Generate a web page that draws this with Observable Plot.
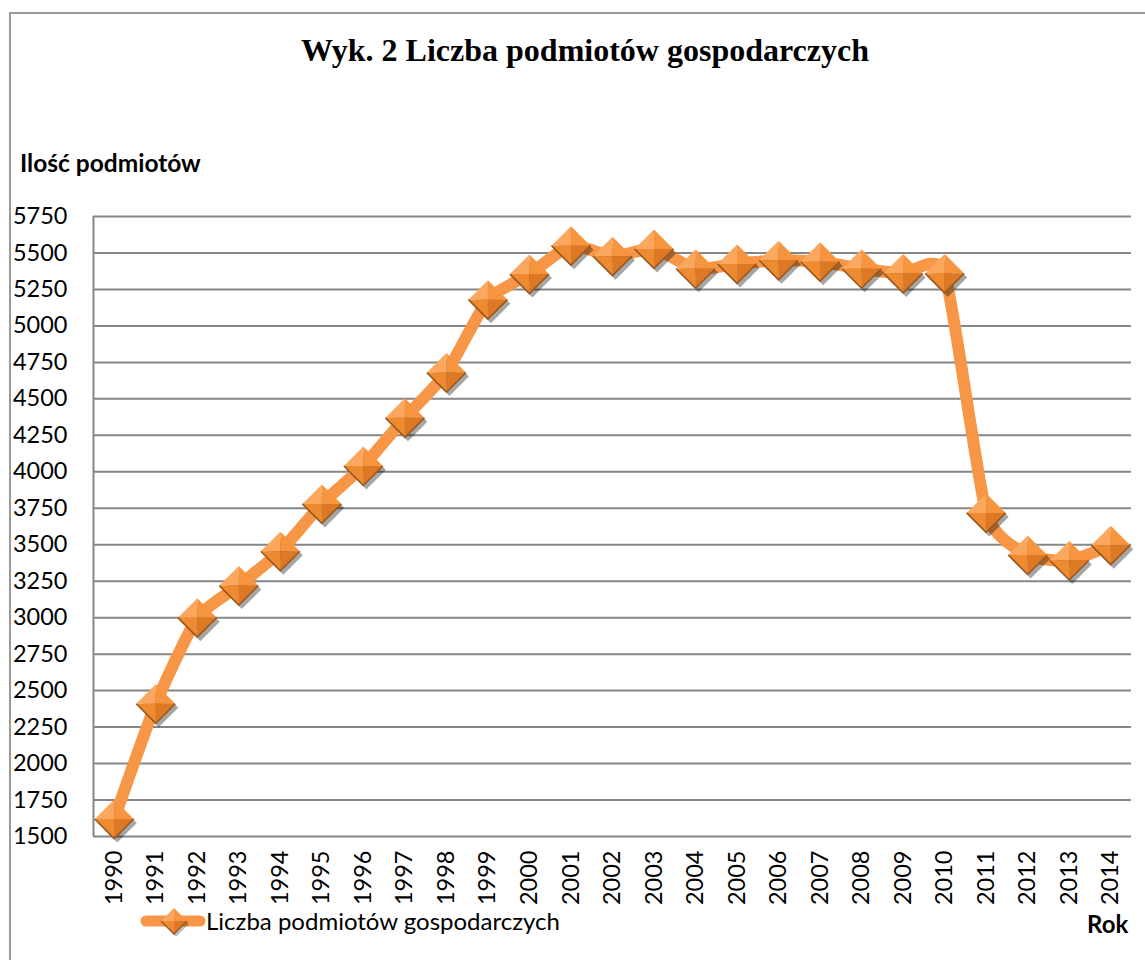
<!DOCTYPE html>
<html>
<head>
<meta charset="utf-8">
<script src="https://cdn.jsdelivr.net/npm/d3@7"></script>
<script src="https://cdn.jsdelivr.net/npm/@observablehq/plot@0.6"></script>
<style>
  html, body { margin: 0; padding: 0; background: #fff; }
  #wrap { position: relative; width: 1145px; height: 960px; overflow: hidden; }
  #frame { position: absolute; left: 9px; top: 12px; width: 1150px; height: 960px;
           border-left: 2px solid #9a9a9a; border-top: 2px solid #9a9a9a; box-sizing: border-box; }
  #chart { position: absolute; left: 0; top: 0; }
  .txt { position: absolute; white-space: nowrap; color: #000; }
  #title { left: 0; width: 1170px; text-align: center; top: 31px; font-family: "Liberation Serif", "Times New Roman", serif;
           font-weight: bold; font-size: 32px; line-height: 38px; }
  #ylab { left: 20px; top: 148px; font-family: Lato, sans-serif; font-weight: bold; font-size: 24.5px; line-height: 30px; }
  #xlab { left: 1087px; top: 909px; font-family: Lato, sans-serif; font-weight: bold; font-size: 24px; line-height: 30px; }
  #legend { left: 140px; top: 906px; font-family: Lato, sans-serif; font-size: 24px; line-height: 30px; display: flex; align-items: center; }
  #legend svg { display: block; margin-right: 0px; }
</style>
</head>
<body>
<div id="wrap">
  <div id="frame"></div>
  <div id="chart"></div>
  <div class="txt" id="title">Wyk. 2 Liczba podmiotów gospodarczych</div>
  <div class="txt" id="ylab">Ilość podmiotów</div>
  <div class="txt" id="xlab">Rok</div>
  <div class="txt" id="legend"></div>
</div>
<script>
// ---- data ----
const years = [1990, 1991, 1992, 1993, 1994, 1995, 1996, 1997, 1998, 1999, 2000, 2001, 2002,
               2003, 2004, 2005, 2006, 2007, 2008, 2009, 2010, 2011, 2012, 2013, 2014];
const values = [1620, 2410, 3000, 3220, 3455, 3780, 4040, 4370, 4680, 5180, 5355, 5550, 5478,
                5528, 5392, 5425, 5450, 5440, 5392, 5360, 5360, 3718, 3430, 3392, 3497];
const yTicks = [1500, 1750, 2000, 2250, 2500, 2750, 3000, 3250, 3500, 3750, 4000, 4250, 4500,
                4750, 5000, 5250, 5500, 5750];
const seriesName = "Liczba podmiotów gospodarczych";

const data = years.map((y, i) => ({year: y, value: values[i]}));

// ---- pyramid-diamond marker faces ----
function face(pts) {
  return {
    draw(ctx, size) {
      const r = Math.sqrt(size / Math.PI);
      ctx.moveTo(0, 0);
      for (const [a, b] of pts) ctx.lineTo(a * r, b * r);
      ctx.closePath();
    }
  };
}
const T = [0, -1], R = [1, 0], B = [0, 1], L = [-1, 0];
const faceTL = face([L, T]);
const faceTR = face([T, R]);
const faceBR = face([R, B]);
const faceBL = face([B, L]);
const fullDiamond = {
  draw(ctx, size) {
    const r = Math.sqrt(size / Math.PI);
    ctx.moveTo(0, -r); ctx.lineTo(r, 0); ctx.lineTo(0, r); ctx.lineTo(-r, 0); ctx.closePath();
  }
};
const lowerEdge = {
  draw(ctx, size) {
    const r = Math.sqrt(size / Math.PI);
    ctx.moveTo(-r, 0); ctx.lineTo(0, r); ctx.lineTo(r, 0);
  }
};

const MR = 19.5;
const lineColor = "#F79646";

const chart = Plot.plot({
  width: 1145,
  height: 960,
  marginLeft: 93,
  marginRight: 14,
  marginTop: 216,
  marginBottom: 124,
  style: {fontFamily: "Lato, sans-serif", fontSize: "23.5px", color: "#000", background: "transparent", overflow: "visible"},
  x: {type: "linear", domain: [1989.5, 2014.5], ticks: years, tickFormat: d => String(d),
      tickRotate: -90, tickSize: 0, tickPadding: 14, label: null},
  y: {domain: [1500, 5750], ticks: yTicks, tickFormat: d => String(d), tickSize: 0, tickPadding: 26, label: null},
  marks: [
    Plot.ruleY(yTicks, {stroke: "#868686", strokeWidth: 2}),
    Plot.ruleX([1989.5], {stroke: "#868686", strokeWidth: 2}),
    Plot.line(data, {x: "year", y: "value", stroke: lineColor, strokeWidth: 12, curve: "cardinal", tension: 0.45,
                     strokeLinejoin: "round", strokeLinecap: "round"}),
    Plot.dot(data, {x: "year", y: "value", symbol: fullDiamond, r: MR, fill: "#000", fillOpacity: 0.35,
                    dx: 3, dy: 4, stroke: "none", ariaLabel: "marker-shadow"}),
    Plot.dot(data, {x: "year", y: "value", symbol: faceTL, r: MR, fill: "#FBA85E", stroke: "none"}),
    Plot.dot(data, {x: "year", y: "value", symbol: faceTR, r: MR, fill: "#F7953E", stroke: "none"}),
    Plot.dot(data, {x: "year", y: "value", symbol: faceBL, r: MR, fill: "#EE8A2F", stroke: "none"}),
    Plot.dot(data, {x: "year", y: "value", symbol: faceBR, r: MR, fill: "#DD7824", stroke: "none"}),
    Plot.dot(data, {x: "year", y: "value", symbol: lowerEdge, r: MR, fill: "none", stroke: "#9C581E", strokeWidth: 1.6})
  ]
});

// soft blur on the marker shadow
const svg = d3.select(chart);
const defs = svg.insert("defs", ":first-child");
defs.append("filter").attr("id", "mshadow").attr("x", "-50%").attr("y", "-50%").attr("width", "200%").attr("height", "200%")
  .append("feGaussianBlur").attr("stdDeviation", 2.2);
svg.selectAll('g[aria-label="marker-shadow"]').attr("filter", "url(#mshadow)");

document.getElementById("chart").appendChild(chart);

// legend
const leg = document.getElementById("legend");
const ns = "http://www.w3.org/2000/svg";
const ls = document.createElementNS(ns, "svg");
ls.setAttribute("width", "66"); ls.setAttribute("height", "30");
const s = 13, cx = 34, cy = 15;
ls.innerHTML = `
  <line x1="6" y1="${cy}" x2="60" y2="${cy}" stroke="${lineColor}" stroke-width="11" stroke-linecap="round"/>
  <path d="M${cx+2},${cy-s+3}L${cx+s+2},${cy+3}L${cx+2},${cy+s+3}L${cx-s+2},${cy+3}Z" fill="#000" opacity="0.25"/>
  <path d="M${cx},${cy}L${cx-s},${cy}L${cx},${cy-s}Z" fill="#FBA85E"/>
  <path d="M${cx},${cy}L${cx},${cy-s}L${cx+s},${cy}Z" fill="#F7953E"/>
  <path d="M${cx},${cy}L${cx},${cy+s}L${cx-s},${cy}Z" fill="#EE8A2F"/>
  <path d="M${cx},${cy}L${cx+s},${cy}L${cx},${cy+s}Z" fill="#DD7824"/>
  <path d="M${cx-s},${cy}L${cx},${cy+s}L${cx+s},${cy}" fill="none" stroke="#9C581E" stroke-width="1.3"/>`;
leg.appendChild(ls);
const lt = document.createElement("span");
lt.textContent = seriesName;
leg.appendChild(lt);
</script>
</body>
</html>
